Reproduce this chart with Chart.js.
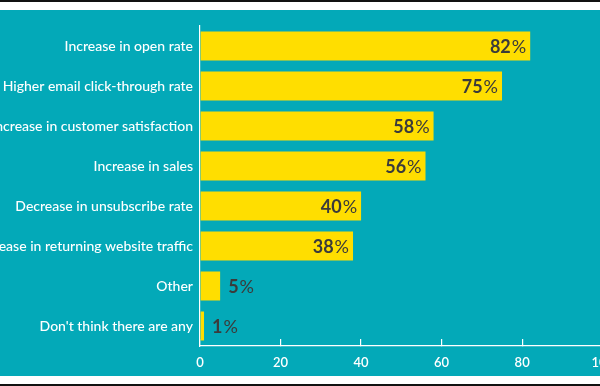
<!DOCTYPE html>
<html>
<head>
<meta charset="utf-8">
<script src="https://cdn.jsdelivr.net/npm/chart.js@4/dist/chart.umd.min.js"></script>
<style>
  html, body { margin: 0; padding: 0; background: #fff; }
  #page { position: relative; width: 600px; height: 386px; overflow: hidden; background: #fff; }
  #topLine { position: absolute; left: 0; top: 0; width: 600px; height: 2px; background: #111; }
  #bottomLine { position: absolute; left: 0; top: 384px; width: 600px; height: 2px; background: #111; }
  #panel { position: absolute; left: 0; top: 10px; width: 600px; height: 366px; overflow: hidden; background: #03a9b8; }
  #chart { position: absolute; left: 0; top: 0; }
</style>
</head>
<body>
<div id="page">
  <div id="topLine"></div>
  <div id="panel"><canvas id="chart" width="630" height="366"></canvas></div>
  <div id="bottomLine"></div>
</div>
<script>
const categories = [
  'Increase in open rate',
  'Higher email click-through rate',
  'Increase in customer satisfaction',
  'Increase in sales',
  'Decrease in unsubscribe rate',
  'Increase in returning website traffic',
  'Other',
  "Don't think there are any"
];
const values = [82, 75, 58, 56, 40, 38, 5, 1];
const xTicks = [0, 20, 40, 60, 80, 100];

const YELLOW = '#ffde00';
const DARK   = '#3b3b3b';

// — value labels: "82" bold + "%" regular, inside the bar when it fits —
const valueLabels = {
  id: 'valueLabels',
  afterDatasetsDraw(chart) {
    const ctx  = chart.ctx;
    const meta = chart.getDatasetMeta(0);
    ctx.save();
    ctx.fillStyle = DARK;
    ctx.textBaseline = 'middle';
    ctx.textAlign = 'left';
    meta.data.forEach((bar, i) => {
      const num = String(values[i]);
      ctx.font = 'bold 18px Lato';
      const wNum = ctx.measureText(num).width;
      ctx.font = '18px Lato';
      const wPct = ctx.measureText('%').width;
      const total = wNum + wPct + 1;
      const barW = bar.x - bar.base;
      const x = barW > total + 20 ? bar.x - 4 - total : bar.x + 8;
      ctx.font = 'bold 18px Lato';
      ctx.fillText(num, x, bar.y + 1);
      ctx.font = '18px Lato';
      ctx.fillText('%', x + wNum + 1, bar.y + 1);
    });
    ctx.restore();
  }
};

const ctx = document.getElementById('chart').getContext('2d');
const chart = new Chart(ctx, {
  type: 'bar',
  data: {
    labels: categories,
    datasets: [{
      data: values,
      backgroundColor: YELLOW,
      borderWidth: 0,
      barPercentage: 0.73,
      categoryPercentage: 1
    }]
  },
  options: {
    indexAxis: 'y',
    responsive: false,
    animation: false,
    layout: { padding: { top: 16, right: 26, left: 0, bottom: 0 } },
    plugins: {
      legend: { display: false },
      tooltip: { enabled: false }
    },
    scales: {
      x: {
        min: 0,
        max: 100,
        afterBuildTicks: (scale) => { scale.ticks = xTicks.map(v => ({ value: v })); },
        afterFit: (scale) => { scale.height = 30; },
        border: { display: true, color: '#ffffff', width: 1.2 },
        grid: { drawOnChartArea: false, drawTicks: true, tickLength: -7, color: '#ffffff', lineWidth: 1.2 },
        ticks: { color: '#ffffff', font: { family: 'Lato', size: 13, weight: '600' }, padding: 16, maxRotation: 0 }
      },
      y: {
        afterFit: (scale) => { scale.width = 200; },
        border: { display: true, color: '#ffffff', width: 1.2 },
        grid: { display: false, drawTicks: false },
        ticks: { color: '#ffffff', font: { family: 'Lato', size: 14, weight: '500' }, padding: 7 }
      }
    }
  },
  plugins: [valueLabels]
});
</script>
</body>
</html>
